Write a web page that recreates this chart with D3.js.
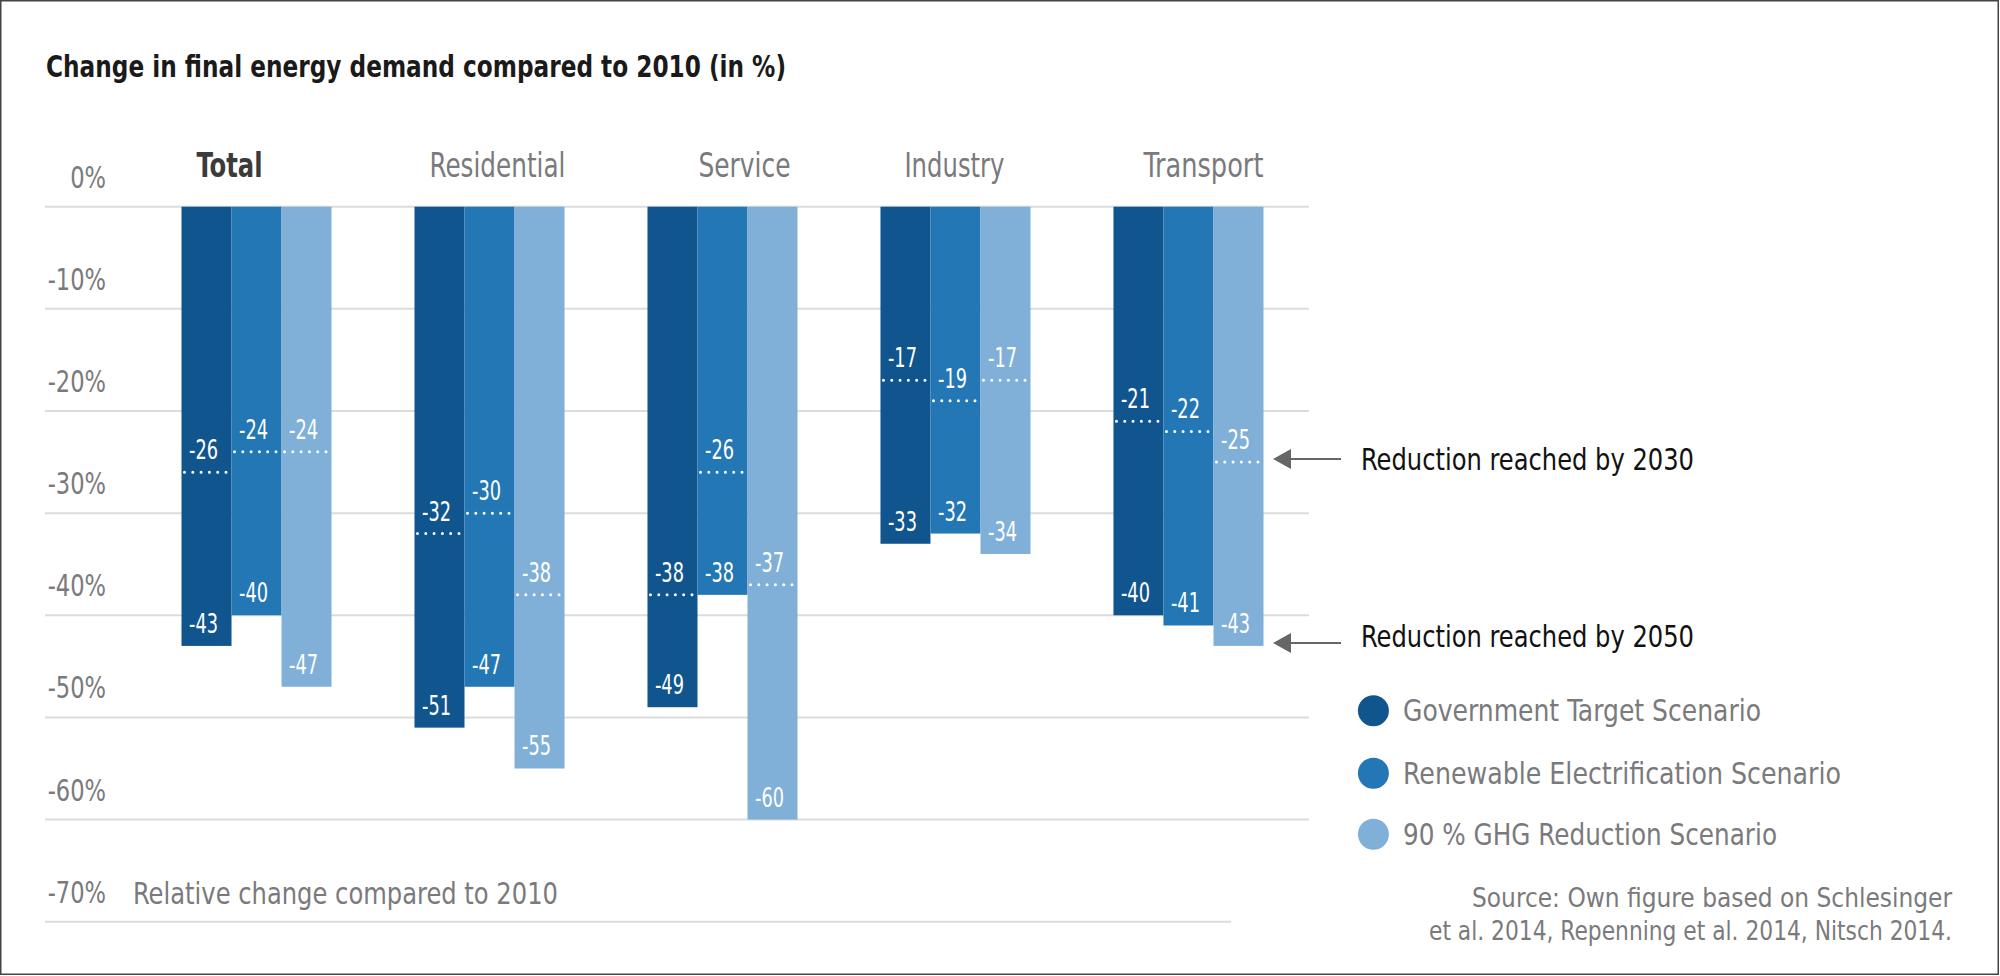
<!DOCTYPE html>
<html>
<head>
<meta charset="utf-8">
<script src="https://cdn.jsdelivr.net/npm/d3@7"></script>
<style>
  html, body { margin: 0; padding: 0; background: #fff; }
  svg { display: block; }
  text { font-family: "Liberation Sans Narrow", "DejaVu Sans Condensed", "Arial Narrow", sans-serif; }
</style>
</head>
<body>
<svg id="chart" width="2000" height="976"></svg>
<script>
// ---- data ----
const categories = ["Total", "Residential", "Service", "Industry", "Transport"];
const scenarios = ["Government Target Scenario", "Renewable Electrification Scenario", "90 % GHG Reduction Scenario"];
// reduction reached by 2030 (per category, per scenario)
const values2030 = [
  [-26, -24, -24],
  [-32, -30, -38],
  [-38, -26, -37],
  [-17, -19, -17],
  [-21, -22, -25]
];
// reduction reached by 2050
const values2050 = [
  [-43, -40, -47],
  [-51, -47, -55],
  [-49, -38, -60],
  [-33, -32, -34],
  [-40, -41, -43]
];
const yTicks = [0, -10, -20, -30, -40, -50, -60, -70];
const yTickLabels = ["0%", "-10%", "-20%", "-30%", "-40%", "-50%", "-60%", "-70%"];
const titleText = "Change in final energy demand compared to 2010 (in %)";
const axisNote = "Relative change compared to 2010";
const annot2030 = "Reduction reached by 2030";
const annot2050 = "Reduction reached by 2050";
const sourceLines = ["Source: Own figure based on Schlesinger", "et al. 2014, Repenning et al. 2014, Nitsch 2014."];

// ---- layout / style ----
const colors = ["#11558f", "#2277b4", "#80b0d8"];
const grey = "#7a7a7d";
const catLabelDx = [15, 15, 51, 24, 30];
const catLabelLen = [66, 136, 92, 100, 120];
const legendLen = [358, 438, 374];

// squeeze a text's natural width by a factor (to mimic a condensed face)
function condense(sel, f) {
  sel.each(function () {
    const w = this.getComputedTextLength();
    d3.select(this).attr("textLength", w * f).attr("lengthAdjust", "spacingAndGlyphs");
  });
}

const svg = d3.select("#chart");

// frame
svg.append("rect").attr("x", 0.75).attr("y", 0.75).attr("width", 1997.5).attr("height", 973.5)
  .attr("fill", "#fff").attr("stroke", "#444").attr("stroke-width", 1.5);

const y = d3.scaleLinear().domain([0, -70]).range([206.7, 921.7]);
const x0 = d3.scaleBand().domain(categories).range([181.5, 1263.5]).paddingInner(0.356).paddingOuter(0);
const x1 = d3.scaleBand().domain(d3.range(scenarios.length)).range([0, x0.bandwidth()]);

// title
svg.append("text").attr("x", 46).attr("y", 77)
  .attr("font-size", 30).attr("font-weight", "bold").attr("fill", "#1a1a1a")
  .attr("textLength", 740).attr("lengthAdjust", "spacingAndGlyphs")
  .text(titleText);

// gridlines
svg.append("g").selectAll("line").data(yTicks).join("line")
  .attr("x1", 45).attr("x2", (d) => d === -70 ? 1231 : 1309)
  .attr("y1", (d) => y(d)).attr("y2", (d) => y(d))
  .attr("stroke", "#dcdcdc").attr("stroke-width", 2);

// y labels
svg.append("g").selectAll("text").data(yTicks).join("text")
  .attr("x", 106).attr("y", (d) => y(d) - 19)
  .attr("text-anchor", "end").attr("font-size", 31).attr("fill", grey)
  .text((d, i) => yTickLabels[i])
  .call(condense, 0.81);

svg.append("text").attr("x", 133).attr("y", 904)
  .attr("font-size", 31).attr("fill", grey)
  .attr("textLength", 425).attr("lengthAdjust", "spacingAndGlyphs")
  .text(axisNote);

// category labels
svg.append("g").selectAll("text").data(categories).join("text")
  .attr("x", (d, i) => x0(d) + catLabelDx[i]).attr("y", 177)
  .attr("font-size", 33)
  .attr("font-weight", (d, i) => i === 0 ? "bold" : "normal")
  .attr("fill", (d, i) => i === 0 ? "#3b3b3b" : grey)
  .attr("textLength", (d, i) => catLabelLen[i]).attr("lengthAdjust", "spacingAndGlyphs")
  .text((d) => d);

// bars
const rows = [];
categories.forEach((c, ci) => {
  scenarios.forEach((s, si) => {
    rows.push({ cat: c, si, v30: values2030[ci][si], v50: values2050[ci][si] });
  });
});

const g = svg.append("g");
g.selectAll("rect.bar").data(rows).join("rect").attr("class", "bar")
  .attr("x", (d) => x0(d.cat) + x1(d.si))
  .attr("width", x1.bandwidth())
  .attr("y", y(0))
  .attr("height", (d) => y(d.v50) - y(0))
  .attr("fill", (d) => colors[d.si]);

// dotted 2030 lines
g.selectAll("line.dot").data(rows).join("line").attr("class", "dot")
  .attr("x1", (d) => x0(d.cat) + x1(d.si) + 3)
  .attr("x2", (d) => x0(d.cat) + x1(d.si) + x1.bandwidth() - 1)
  .attr("y1", (d) => y(d.v30)).attr("y2", (d) => y(d.v30))
  .attr("stroke", "#fff").attr("stroke-width", 3)
  .attr("stroke-linecap", "round").attr("stroke-dasharray", "0,8.3");

// 2030 labels
g.selectAll("text.l30").data(rows).join("text").attr("class", "l30")
  .attr("x", (d) => x0(d.cat) + x1(d.si) + x1.bandwidth() / 2 - 3)
  .attr("y", (d) => y(d.v30) - 13)
  .attr("text-anchor", "middle").attr("font-size", 26).attr("fill", "#fff")
  .text((d) => d.v30)
  .call(condense, 0.76);

// 2050 labels
g.selectAll("text.l50").data(rows).join("text").attr("class", "l50")
  .attr("x", (d) => x0(d.cat) + x1(d.si) + x1.bandwidth() / 2 - 3)
  .attr("y", (d) => y(d.v50) - 13)
  .attr("text-anchor", "middle").attr("font-size", 26).attr("fill", "#fff")
  .text((d) => d.v50)
  .call(condense, 0.76);

// annotations with arrows (pointing at Transport / 90% GHG)
const lastCat = categories.length - 1, lastS = scenarios.length - 1;
const annots = [
  { text: annot2030, v: values2030[lastCat][lastS], ty: 470 },
  { text: annot2050, v: values2050[lastCat][lastS], ty: 647 }
];
const ag = svg.append("g");
annots.forEach((a) => {
  const ay = y(a.v) - 3;
  ag.append("line").attr("x1", 1288).attr("x2", 1341).attr("y1", ay).attr("y2", ay)
    .attr("stroke", "#666").attr("stroke-width", 2);
  ag.append("path")
    .attr("d", `M1273,${ay} L1291,${ay - 10} L1291,${ay + 10} Z`)
    .attr("fill", "#666");
  ag.append("text").attr("x", 1361).attr("y", a.ty)
    .attr("font-size", 31).attr("fill", "#111")
    .attr("textLength", 333).attr("lengthAdjust", "spacingAndGlyphs")
    .text(a.text);
});

// legend
const lg = svg.append("g");
const legendY = [710.7, 773.3, 834.3];
scenarios.forEach((s, i) => {
  lg.append("circle").attr("cx", 1373.4).attr("cy", legendY[i]).attr("r", 15.5).attr("fill", colors[i]);
  lg.append("text").attr("x", 1403).attr("y", legendY[i] + 10.5)
    .attr("font-size", 31).attr("fill", grey)
    .attr("textLength", legendLen[i]).attr("lengthAdjust", "spacingAndGlyphs")
    .text(s);
});

// source
const srcLen = [480, 523];
const srcY = [906.7, 940];
sourceLines.forEach((t, i) => {
  svg.append("text").attr("x", 1952).attr("y", srcY[i])
    .attr("text-anchor", "end").attr("font-size", 26).attr("fill", grey)
    .attr("textLength", srcLen[i]).attr("lengthAdjust", "spacingAndGlyphs")
    .text(t);
});
</script>
</body>
</html>
